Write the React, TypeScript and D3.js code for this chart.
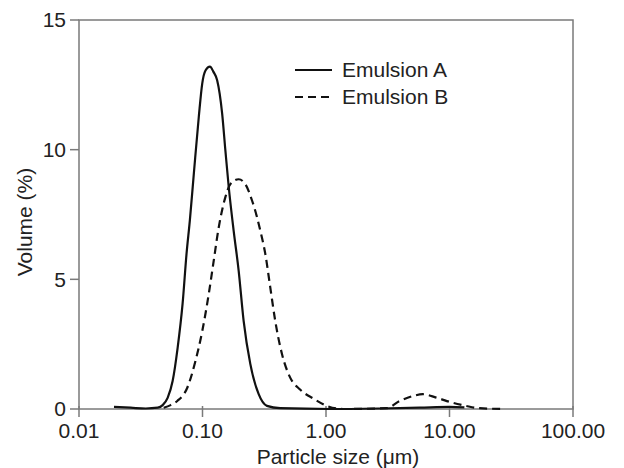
import React from "react";
import * as d3 from "d3";

const sizeA = [0.0192, 0.0262, 0.0347, 0.0434, 0.0476, 0.0522, 0.0573, 0.0629, 0.069, 0.0743, 0.079, 0.0851, 0.0933, 0.0995, 0.1057, 0.1149, 0.1227, 0.1314, 0.1442, 0.1532, 0.163, 0.1787, 0.1963, 0.2153, 0.2438, 0.2845, 0.3326, 0.4256, 1.077, 2.72, 5.73, 10.0, 13.2];
const volA = [0.08, 0.05, 0.02, 0.05, 0.15, 0.43, 1.08, 2.36, 4.06, 6.0, 7.27, 9.08, 11.26, 12.55, 13.05, 13.2, 13.0, 12.68, 11.4, 9.97, 8.57, 6.88, 5.33, 3.4, 1.74, 0.58, 0.12, 0.03, 0.0, 0.02, 0.05, 0.08, 0.06];

const sizeB = [0.0485, 0.0552, 0.0625, 0.0753, 0.0878, 0.0995, 0.1124, 0.1233, 0.1353, 0.1532, 0.1682, 0.1963, 0.2222, 0.2518, 0.2762, 0.2936, 0.322, 0.3533, 0.388, 0.4395, 0.5129, 0.6166, 0.7907, 1.014, 1.371, 3.09, 3.954, 5.06, 6.09, 7.82, 10.6, 13.6, 17.5, 27.8];
const volB = [0.05, 0.15, 0.31, 0.82, 1.86, 3.0, 4.44, 5.72, 7.0, 8.17, 8.67, 8.86, 8.67, 8.04, 7.4, 6.88, 6.0, 4.71, 3.4, 2.13, 1.21, 0.75, 0.4, 0.12, 0.0, 0.03, 0.31, 0.5, 0.57, 0.44, 0.24, 0.12, 0.03, 0.0];

const xTicks = [0.01, 0.1, 1, 10, 100];
const xTickLabels = ["0.01", "0.10", "1.00", "10.00", "100.00"];
const yTicks = [0, 5, 10, 15];
const seriesNames = ["Emulsion A", "Emulsion B"];

const W = 624, H = 468;
const L = 79, R = 573, T = 20, B = 409;
const FONT = "'Liberation Sans', Arial, sans-serif";
const AXIS = "#7a7a7a";
const FS = 21;

export default function App() {
  const x = d3.scaleLog().domain([0.01, 100]).range([L, R]);
  const y = d3.scaleLinear().domain([0, 15]).range([B, T]);
  const line = d3
    .line<[number, number]>()
    .x((d) => x(d[0]))
    .y((d) => y(d[1]))
    .curve(d3.curveMonotoneX);
  const dA = line(sizeA.map((s, i) => [s, volA[i]]) as [number, number][]) || "";
  const dB = line(sizeB.map((s, i) => [s, volB[i]]) as [number, number][]) || "";

  return (
    <svg width={W} height={H} style={{ position: "fixed", left: 0, top: 0, background: "#fff" }} fontFamily={FONT}>
      <rect x={0} y={0} width={W} height={H} fill="#fff" />
      {/* frame */}
      <rect x={L} y={T} width={R - L} height={B - T} fill="none" stroke={AXIS} strokeWidth={1.5} />
      {/* y ticks */}
      {yTicks.map((t) => (
        <g key={"y" + t}>
          <line x1={L - 9} x2={L} y1={y(t)} y2={y(t)} stroke={AXIS} strokeWidth={1.5} />
          <text x={L - 13} y={y(t)} dy="0.35em" textAnchor="end" fontSize={FS} fill="#222">
            {t}
          </text>
        </g>
      ))}
      {/* x ticks */}
      {xTicks.map((t, i) => (
        <g key={"x" + t}>
          <line x1={x(t)} x2={x(t)} y1={B - 3} y2={B + 8} stroke={AXIS} strokeWidth={1.5} />
          <text x={x(t)} y={438} textAnchor="middle" fontSize={FS} fill="#222">
            {xTickLabels[i]}
          </text>
        </g>
      ))}
      {/* axis titles */}
      <text x={338} y={464} textAnchor="middle" fontSize={FS} fill="#222">
        Particle size (μm)
      </text>
      <text transform={`translate(32,222) rotate(-90)`} textAnchor="middle" fontSize={FS} fill="#222">
        Volume (%)
      </text>
      {/* curves */}
      <path d={dA} fill="none" stroke="#111" strokeWidth={2.2} />
      <path d={dB} fill="none" stroke="#111" strokeWidth={2.2} strokeDasharray="8,5" />
      {/* legend */}
      <line x1={295} x2={332} y1={70} y2={70} stroke="#111" strokeWidth={2.2} />
      <text x={342} y={70} dy="0.35em" fontSize={FS} fill="#222">
        {seriesNames[0]}
      </text>
      <line x1={295} x2={332} y1={97} y2={97} stroke="#111" strokeWidth={2.2} strokeDasharray="8,5" />
      <text x={342} y={97} dy="0.35em" fontSize={FS} fill="#222">
        {seriesNames[1]}
      </text>
    </svg>
  );
}
